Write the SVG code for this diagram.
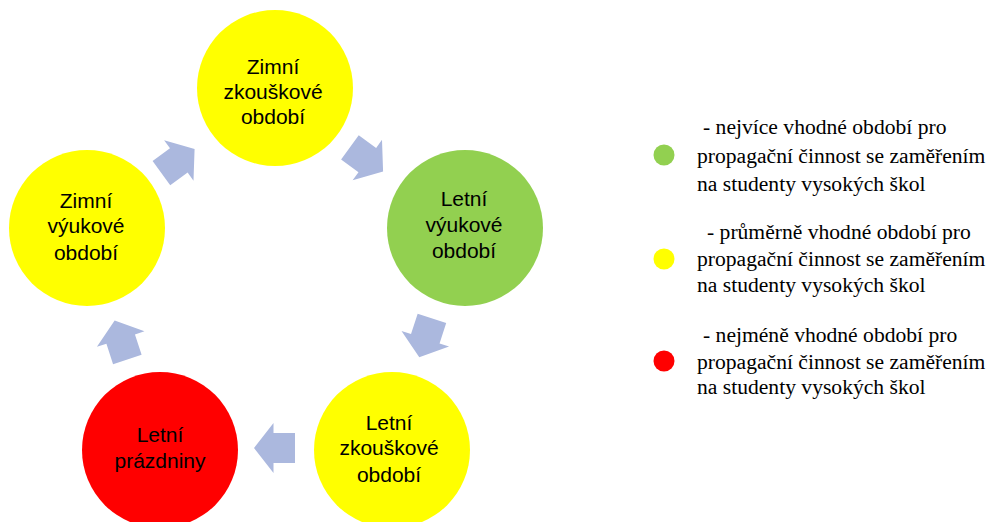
<svg xmlns="http://www.w3.org/2000/svg" width="989" height="522" viewBox="0 0 989 522">
<style>
.lbl{font-family:"Liberation Sans",Arial,sans-serif;font-size:21px;fill:#000;text-anchor:middle}
.leg{font-family:"Liberation Serif","Times New Roman",serif;font-size:21.6px;fill:#000}
.arr{fill:#abb8de}
</style>
<defs>
<path id="arrow" d="M -20.5,-15 H 1 V -25 L 20.5,0 L 1,25 V 15 H -20.5 Z"/>
</defs>
<rect width="989" height="522" fill="#fff"/>
<g id="connectors">
<use href="#arrow" class="arr" transform="translate(178,161) rotate(-36)"/>
<use href="#arrow" class="arr" transform="translate(366.5,159.5) rotate(36)"/>
<use href="#arrow" class="arr" transform="translate(425.6,337.8) rotate(108)"/>
<use href="#arrow" class="arr" transform="translate(274.5,448) rotate(180)"/>
<use href="#arrow" class="arr" transform="translate(121,340) rotate(-108)"/>
</g>
<g id="zimni-zkouskove">
<circle cx="275" cy="88" r="78" fill="#ffff00"/>
<text class="lbl" x="273" y="74">Zimní</text>
<text class="lbl" x="273" y="99">zkouškové</text>
<text class="lbl" x="273" y="124">období</text>
</g>
<g id="letni-vyukove">
<circle cx="465" cy="228" r="78" fill="#92d050"/>
<text class="lbl" x="464" y="206">Letní</text>
<text class="lbl" x="464" y="232">výukové</text>
<text class="lbl" x="464" y="258">období</text>
</g>
<g id="letni-zkouskove">
<circle cx="392" cy="450" r="78" fill="#ffff00"/>
<text class="lbl" x="389" y="430">Letní</text>
<text class="lbl" x="389" y="455">zkouškové</text>
<text class="lbl" x="389" y="482">období</text>
</g>
<g id="letni-prazdniny">
<circle cx="160" cy="450" r="78" fill="#ff0000"/>
<text class="lbl" x="160" y="442">Letní</text>
<text class="lbl" x="160" y="468">prázdniny</text>
</g>
<g id="zimni-vyukove">
<circle cx="87" cy="228" r="78" fill="#ffff00"/>
<text class="lbl" x="86" y="208">Zimní</text>
<text class="lbl" x="86" y="233">výukové</text>
<text class="lbl" x="86" y="260">období</text>
</g>
<g id="legend-green">
<circle cx="664" cy="155" r="10.5" fill="#92d050"/>
<text class="leg" x="703" y="134">- nejvíce vhodné období pro</text>
<text class="leg" x="697" y="163">propagační činnost se zaměřením</text>
<text class="leg" x="697" y="191">na studenty vysokých škol</text>
</g>
<g id="legend-yellow">
<circle cx="664" cy="259" r="10.5" fill="#ffff00"/>
<text class="leg" x="707" y="239">- průměrně vhodné období pro</text>
<text class="leg" x="697" y="266">propagační činnost se zaměřením</text>
<text class="leg" x="697" y="292">na studenty vysokých škol</text>
</g>
<g id="legend-red">
<circle cx="664" cy="361" r="10.5" fill="#ff0000"/>
<text class="leg" x="703" y="342">- nejméně vhodné období pro</text>
<text class="leg" x="697" y="369">propagační činnost se zaměřením</text>
<text class="leg" x="697" y="394">na studenty vysokých škol</text>
</g>
</svg>
